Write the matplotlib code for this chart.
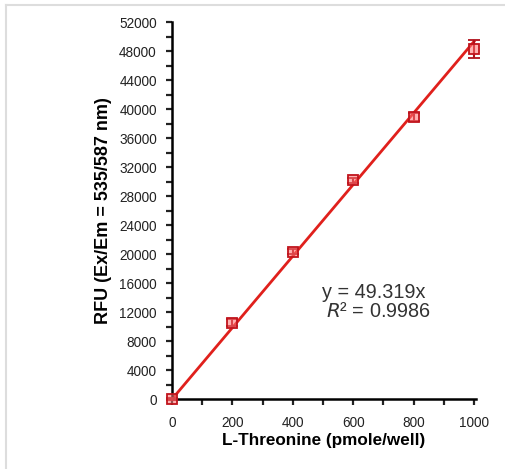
import numpy as np
import matplotlib
matplotlib.use('Agg')
import matplotlib.pyplot as plt
from matplotlib.ticker import MultipleLocator

plt.rcParams['font.family'] = ['Liberation Sans', 'DejaVu Sans']

# datos de la curva de calibrado
conc = [0, 200, 400, 600, 800, 1000]
rfu = [0, 10550, 20350, 30150, 38900, 48250]
err = [150, 450, 350, 400, 500, 1250]
slope = 49.319
r2 = 0.9986

fig = plt.figure(figsize=(5.06, 4.69), dpi=100)
ax = fig.add_axes([0.340, 0.149, 0.601, 0.804])

xfit = np.array([0, 1000])
ax.plot(xfit, slope*xfit, color='#e0201c', lw=2.0, zorder=2, clip_on=False)
ax.errorbar(conc, rfu, yerr=err, fmt='s', ms=7.5, mfc=(1, 0.45, 0.45, 0.55),
            mec='#c0141c', mew=1.3, ecolor='#b0101a', elinewidth=1.5,
            capsize=4, capthick=1.5, zorder=3, clip_on=False)

ax.set_xlim(0, 1007)
ax.set_ylim(0, 52000)
ax.xaxis.set_major_locator(MultipleLocator(200))
ax.xaxis.set_minor_locator(MultipleLocator(100))
ax.yaxis.set_major_locator(MultipleLocator(4000))
ax.yaxis.set_minor_locator(MultipleLocator(2000))
for s in ['top', 'right']:
    ax.spines[s].set_visible(False)
for s in ['left', 'bottom']:
    ax.spines[s].set_linewidth(1.8)
ax.tick_params(which='both', direction='out', width=1.6, length=4, labelsize=9.8,
               colors='#222222')
ax.tick_params(axis='x', pad=8)
ax.tick_params(axis='y', pad=7)

ax.set_xlabel('L-Threonine (pmole/well)', fontsize=12.3, fontweight='bold', labelpad=2)
ax.set_ylabel('RFU (Ex/Em = 535/587 nm)', fontsize=13, fontweight='bold', labelpad=5)

ax.text(497, 13930, 'y = %.3fx' % slope, fontsize=14.3, color='#333333')
ax.text(510, 11300, '$R$² = %.4f' % r2, fontsize=14.3, color='#333333')

# marco gris claro de la imagen
fig.add_artist(plt.Line2D([0.011, 0.011], [0, 0.989], color='#dddddd', lw=1.5))
fig.add_artist(plt.Line2D([0.011, 1], [0.989, 0.989], color='#dddddd', lw=1.5))

fig.savefig('out.png', dpi=100)
